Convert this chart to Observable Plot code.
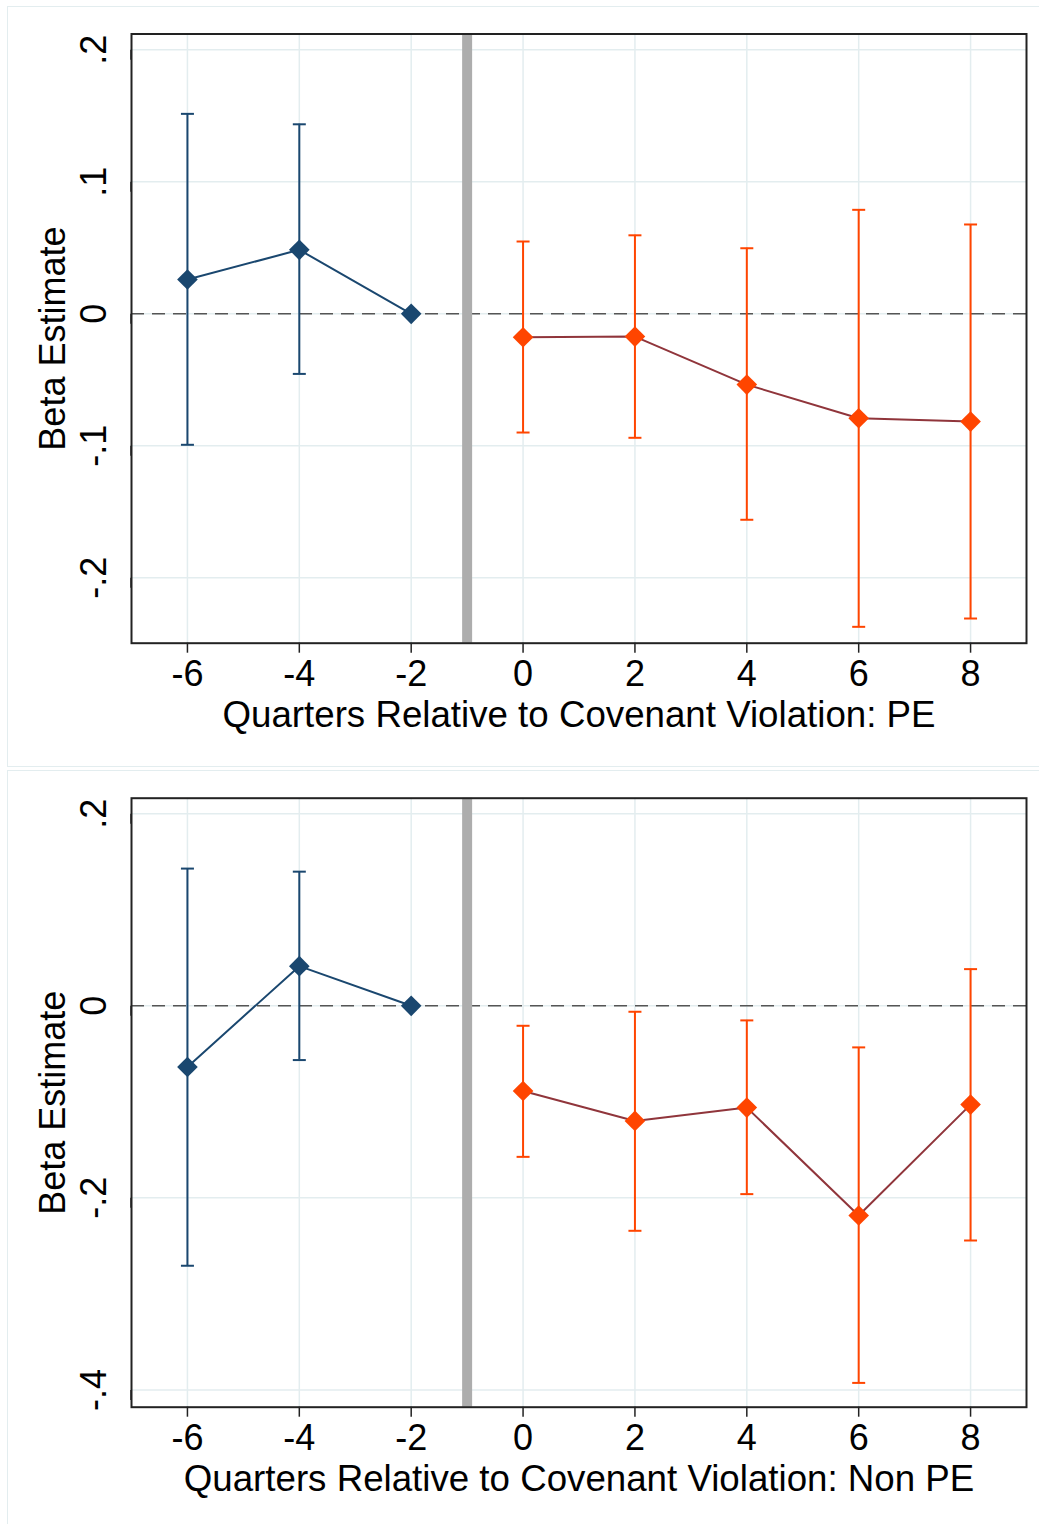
<!DOCTYPE html>
<html>
<head>
<meta charset="utf-8">
<script src="https://cdn.jsdelivr.net/npm/d3@7"></script>
<script src="https://cdn.jsdelivr.net/npm/@observablehq/plot@0.6"></script>
<style>
  html, body { margin: 0; padding: 0; background: #fff; }
  body { width: 1039px; height: 1524px; overflow: hidden; position: relative; font-family: "Liberation Sans", Arial, Helvetica, sans-serif; }
  #chart { position: absolute; left: 0; top: 0; width: 1039px; }
  #chart svg { display: block; }
  .outer { position: absolute; border: 1.5px solid #e3edef; pointer-events: none; box-sizing: border-box; }
</style>
</head>
<body>
<div id="chart"></div>
<div class="outer" style="left:7px; top:6px; width:1040px; height:761px;"></div>
<div class="outer" style="left:7px; top:770px; width:1040px; height:760px;"></div>
<script>
// ---- Data ----
const quarters = [-6, -4, -2, 0, 2, 4, 6, 8];
const xTicks = [-6, -4, -2, 0, 2, 4, 6, 8];
const violationLine = [-1];

// Panel 1: PE
const peBeta = [0.026, 0.0485, 0, -0.0177, -0.0172, -0.0536, -0.0791, -0.0816];
const peLow  = [-0.0992, -0.0455, null, -0.0899, -0.0939, -0.156, -0.2371, -0.2308];
const peHigh = [0.1515, 0.1436, null, 0.0548, 0.0595, 0.0497, 0.0788, 0.0677];
const peYTicks = [0.2, 0.1, 0, -0.1, -0.2];
const peXLabel = "Quarters Relative to Covenant Violation: PE";

// Panel 2: Non PE
const npBeta = [-0.0637, 0.0413, 0, -0.0887, -0.1199, -0.106, -0.2184, -0.1029];
const npLow  = [-0.2707, -0.0565, null, -0.1573, -0.2343, -0.1961, -0.3927, -0.2444];
const npHigh = [0.1429, 0.1397, null, -0.0208, -0.0062, -0.0152, -0.0433, 0.0382];
const npYTicks = [0.2, 0, -0.2, -0.4];
const npXLabel = "Quarters Relative to Covenant Violation: Non PE";

const yLabel = "Beta Estimate";

// ---- Styling ----
const NAVY = "#1a476f";
const ORANGE = "#ff4500";
const MAROON = "#90353b";
const GRID = "#e3edef";
const FONT = "Liberation Sans, Arial, Helvetica, sans-serif";

const capSymbol = {
  draw(ctx) { ctx.moveTo(-6.5, 0); ctx.lineTo(6.5, 0); }
};

function stataFmt(d) {
  if (d === 0) return "0";
  return String(d).replace("0.", ".");
}

function panel({beta, low, high, yTicks, yDomain, xLabel, height, marginTop, marginBottom}) {
  const rows = quarters.map((q, i) => ({
    q, beta: beta[i], low: low[i], high: high[i],
    period: q < 0 ? "pre" : "post"
  }));
  const errs = rows.filter(d => d.low != null);
  const pre = rows.filter(d => d.period === "pre");
  const post = rows.filter(d => d.period === "post");
  const color = d => d.period === "pre" ? NAVY : ORANGE;

  return Plot.plot({
    width: 1039,
    height,
    marginTop,
    marginBottom,
    marginLeft: 131,
    marginRight: 13,
    style: { fontFamily: FONT, background: "transparent", overflow: "visible" },
    x: { domain: [-7, 9] },
    y: { domain: yDomain },
    marks: [
      Plot.gridX(xTicks, { stroke: GRID, strokeOpacity: 1, strokeWidth: 1.5 }),
      Plot.gridY(yTicks, { stroke: GRID, strokeOpacity: 1, strokeWidth: 1.5 }),
      Plot.ruleY([0], { stroke: "#555", strokeWidth: 1.5, strokeDasharray: "13,8" }),
      Plot.ruleX(violationLine, { stroke: "#adadad", strokeWidth: 10 }),
      Plot.line(pre, { x: "q", y: "beta", stroke: NAVY, strokeWidth: 2 }),
      Plot.line(post, { x: "q", y: "beta", stroke: MAROON, strokeWidth: 2 }),
      Plot.ruleX(errs, { x: "q", y1: "low", y2: "high", stroke: color, strokeWidth: 2 }),
      Plot.dot(errs, { x: "q", y: "high", symbol: capSymbol, r: 5, stroke: color, fill: "none", strokeWidth: 2 }),
      Plot.dot(errs, { x: "q", y: "low", symbol: capSymbol, r: 5, stroke: color, fill: "none", strokeWidth: 2 }),
      Plot.dot(rows, { x: "q", y: "beta", symbol: "diamond2", r: 9.3, fill: color, stroke: "none" }),
      Plot.frame({ stroke: "#222", strokeWidth: 2 }),
      Plot.axisX({
        ticks: xTicks, tickFormat: d => String(d), tickSize: 10, tickPadding: 7,
        fontSize: 36, stroke: "#222", strokeWidth: 1.5, label: null, fill: "#000"
      }),
      Plot.axisY({
        ticks: yTicks, tickFormat: stataFmt, tickSize: 10, tickPadding: 27,
        fontSize: 36, stroke: "#222", strokeWidth: 1.5, label: null, fill: "#000",
        rotate: -90, textAnchor: "middle", lineAnchor: "middle"
      }),
      Plot.text([xLabel], {
        frameAnchor: "bottom", dy: 72, lineAnchor: "middle", fontSize: 36.7, fill: "#000", text: d => d
      }),
      Plot.text([yLabel], {
        frameAnchor: "left", dx: -78.5, rotate: -90, lineAnchor: "middle", textAnchor: "middle",
        fontSize: 36, fill: "#000", text: d => d
      })
    ]
  });
}

const chart = document.getElementById("chart");
chart.append(panel({
  beta: peBeta, low: peLow, high: peHigh, yTicks: peYTicks,
  yDomain: [-0.2495, 0.212], xLabel: peXLabel,
  height: 768, marginTop: 33.5, marginBottom: 125.3
}));
chart.append(panel({
  beta: npBeta, low: npLow, high: npHigh, yTicks: npYTicks,
  yDomain: [-0.418, 0.2162], xLabel: npXLabel,
  height: 756, marginTop: 29.7, marginBottom: 117.3
}));
</script>
</body>
</html>
